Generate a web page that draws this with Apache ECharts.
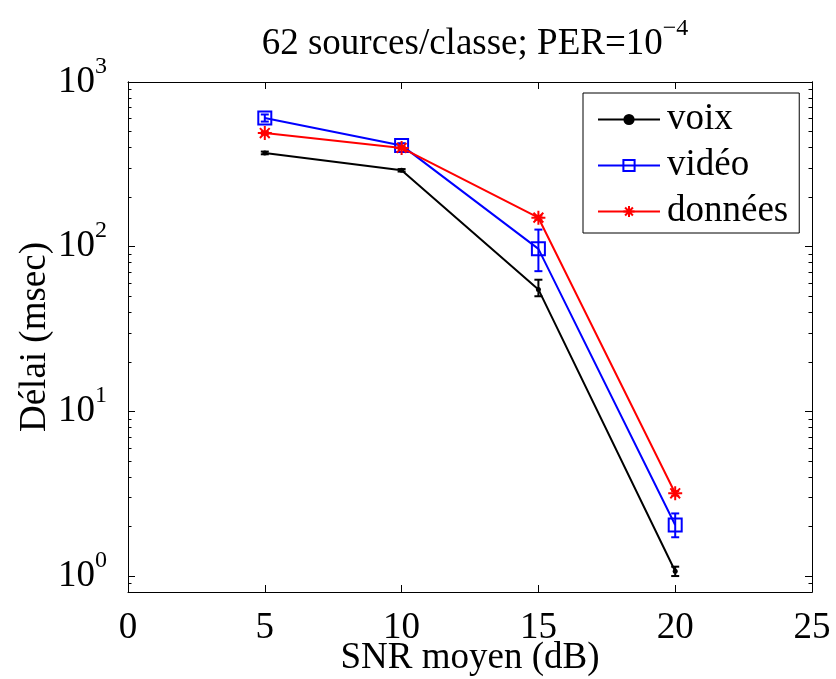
<!DOCTYPE html>
<html>
<head>
<meta charset="utf-8">
<script src="https://cdn.jsdelivr.net/npm/echarts@6/dist/echarts.min.js"></script>
<style>html,body{margin:0;padding:0;background:#fff;}#chart{width:836px;height:679px;}</style>
</head>
<body>
<div id="chart"></div>
<script>
const snr = [5, 10, 15, 20];
const voix = [371, 291, 55, 1.07];
const voixLow = [364, 286, 50, 1.0];
const voixHigh = [378, 296, 63, 1.14];
const video = [604, 412, 97, 2.04];
const videoLow = [575, 400, 71, 1.72];
const videoHigh = [635, 425, 127, 2.40];
const donnees = [490, 398, 150, 3.18];
const donneesLow = [481, 391, 146, 3.08];
const donneesHigh = [499, 405, 154, 3.28];
const seriesNames = ['voix', 'vidéo', 'données'];
const xTicks = [0, 5, 10, 15, 20, 25];
const yMajor = [1, 10, 100, 1000];
const yMinor = [0.9, 2, 3, 4, 5, 6, 7, 8, 9, 20, 30, 40, 50, 60, 70, 80, 90, 200, 300, 400, 500, 600, 700, 800, 900];
const titleMain = '62 sources/classe; PER=10';
const titleExp = '−4';
const xName = 'SNR moyen (dB)';
const yName = 'Délai (msec)';

const FONT = "'Liberation Serif','Times New Roman',serif";
const FS = 37;

const chart = echarts.init(document.getElementById('chart'), null, {renderer: 'canvas'});

function pairs(xs, ys) { return xs.map((x, i) => [x, ys[i]]); }
function errData(xs, lo, hi) { return xs.map((x, i) => [x, lo[i], hi[i]]); }
function errRenderer(color) {
  return function (params, api) {
    const x = api.value(0), lo = api.value(1), hi = api.value(2);
    const a = api.coord([x, lo]), b = api.coord([x, hi]);
    const hw = 4;
    const st = {stroke: color, lineWidth: 2};
    return {type: 'group', children: [
      {type: 'line', shape: {x1: a[0], y1: a[1], x2: b[0], y2: b[1]}, style: st},
      {type: 'line', shape: {x1: a[0] - hw, y1: a[1], x2: a[0] + hw, y2: a[1]}, style: st},
      {type: 'line', shape: {x1: b[0] - hw, y1: b[1], x2: b[0] + hw, y2: b[1]}, style: st}
    ]};
  };
}

const starPath = 'path://M0,-10L0,10M-10,0L10,0M-7,-7L7,7M-7,7L7,-7';
const axisLineStyle = {show: true, lineStyle: {color: '#000', width: 1}};
const supRich = {
  b: {fontFamily: FONT, fontSize: FS, fontWeight: 'normal', color: '#000'},
  s: {fontFamily: FONT, fontSize: 24, fontWeight: 'normal', color: '#000', padding: [0, 0, 31, 0]}
};

function yAxisDef(pos, ticks, len, showLabel, extra) {
  return Object.assign({
    type: 'log', logBase: 10, min: 0.8, max: 1000, position: pos, offset: 0,
    gridIndex: 0,
    axisLine: axisLineStyle,
    axisTick: {show: true, inside: true, length: len, customValues: ticks, lineStyle: {color: '#000', width: 1}},
    axisLabel: showLabel ? {
      show: true, margin: 21, customValues: ticks,
      formatter: function (v) { return '{b|10}{s|' + Math.round(Math.log10(v)) + '}'; },
      rich: supRich
    } : {show: false},
    splitLine: {show: false}, minorTick: {show: false}, minorSplitLine: {show: false}
  }, extra || {});
}

const option = {
  animation: false,
  backgroundColor: '#fff',
  title: {
    text: '{b|' + titleMain + '}{s|' + titleExp + '}',
    left: 470, top: 12, textAlign: 'center',
    textStyle: {fontWeight: 'normal', rich: supRich}
  },
  grid: {left: 128, right: 24, top: 82, bottom: 87, containLabel: false, outerBoundsMode: 'none'},
  legend: {
    data: seriesNames,
    orient: 'vertical', left: 583, top: 93,
    padding: [8, 11, 3, 14],
    itemWidth: 62, itemHeight: 14, itemGap: 9,
    backgroundColor: '#fff', borderColor: '#000', borderWidth: 1, borderRadius: 0,
    textStyle: {fontFamily: FONT, fontSize: FS, color: '#000', padding: [0, 0, 0, 2]}
  },
  xAxis: [
    {
      type: 'value', min: 0, max: 25, interval: 5, position: 'bottom',
      axisLine: axisLineStyle,
      axisTick: {show: true, inside: true, length: 7, lineStyle: {color: '#000'}},
      axisLabel: {show: true, margin: 18, fontFamily: FONT, fontSize: FS, color: '#000'},
      splitLine: {show: false},
      name: xName, nameLocation: 'middle', nameGap: 48, nameMoveOverlap: false,
      nameTextStyle: {fontFamily: FONT, fontSize: FS, color: '#000'}
    },
    {
      type: 'value', min: 0, max: 25, interval: 5, position: 'top',
      axisLine: axisLineStyle,
      axisTick: {show: true, inside: true, length: 7, lineStyle: {color: '#000'}},
      axisLabel: {show: false}, splitLine: {show: false}
    }
  ],
  yAxis: [
    yAxisDef('left', yMajor, 7, true, {
      name: yName, nameLocation: 'middle', nameGap: 74, nameMoveOverlap: false,
      nameTextStyle: {fontFamily: FONT, fontSize: FS, color: '#000'}
    }),
    yAxisDef('left', yMinor, 3.5, false),
    yAxisDef('right', yMajor, 7, false),
    yAxisDef('right', yMinor, 3.5, false)
  ],
  series: [
    {
      name: seriesNames[0], type: 'line', xAxisIndex: 0, yAxisIndex: 0,
      data: pairs(snr, voix), symbol: 'circle', symbolSize: 5,
      lineStyle: {color: '#000', width: 2}, itemStyle: {color: '#000'}, z: 2
    },
    {
      type: 'custom', xAxisIndex: 0, yAxisIndex: 0, renderItem: errRenderer('#000'),
      data: errData(snr, voixLow, voixHigh), encode: {x: 0, y: [1, 2]}, z: 2
    },
    {
      name: seriesNames[1], type: 'line', xAxisIndex: 0, yAxisIndex: 0,
      data: pairs(snr, video), symbol: 'rect', symbolSize: 13,
      lineStyle: {color: '#0000ff', width: 2},
      itemStyle: {color: 'rgba(0,0,0,0)', borderColor: '#0000ff', borderWidth: 2}, z: 3
    },
    {
      type: 'custom', xAxisIndex: 0, yAxisIndex: 0, renderItem: errRenderer('#0000ff'),
      data: errData(snr, videoLow, videoHigh), encode: {x: 0, y: [1, 2]}, z: 3
    },
    {
      name: seriesNames[2], type: 'line', xAxisIndex: 0, yAxisIndex: 0,
      data: pairs(snr, donnees), symbol: starPath, symbolSize: 14,
      lineStyle: {color: '#ff0000', width: 2},
      itemStyle: {color: '#ff0000', borderColor: '#ff0000', borderWidth: 2}, z: 4
    },
    {
      type: 'custom', xAxisIndex: 0, yAxisIndex: 0, renderItem: errRenderer('#ff0000'),
      data: errData(snr, donneesLow, donneesHigh), encode: {x: 0, y: [1, 2]}, z: 4
    }
  ]
};
chart.setOption(option);
</script>
</body>
</html>
